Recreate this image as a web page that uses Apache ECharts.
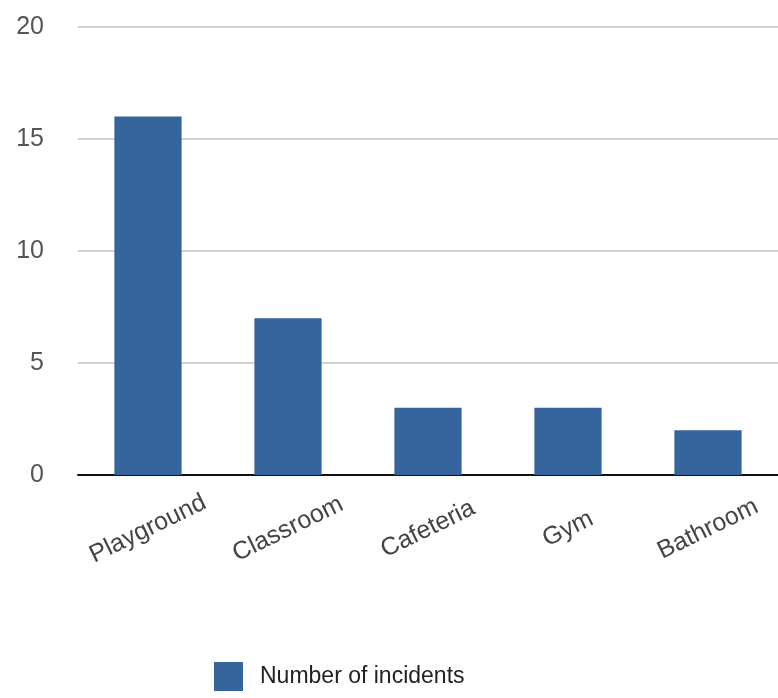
<!DOCTYPE html>
<html>
<head>
<meta charset="utf-8">
<style>
  html, body { margin: 0; padding: 0; background: #fff; }
  #chart { width: 778px; height: 698px; }
</style>
<script src="https://cdn.jsdelivr.net/npm/echarts@6/dist/echarts.min.js"></script>
</head>
<body>
<div id="chart"></div>
<script>
// Incidents by location
const locations = ['Playground', 'Classroom', 'Cafeteria', 'Gym', 'Bathroom'];
const incidents = [16, 7, 3, 3, 2];
const seriesName = 'Number of incidents';

const chart = echarts.init(document.getElementById('chart'));
const font = '"Liberation Sans", Arial, Helvetica, sans-serif';

chart.setOption({
  animation: false,
  grid: { left: 78, right: 0, top: 27, bottom: 223, containLabel: false },
  legend: {
    data: [seriesName],
    left: 209,
    top: 657,
    itemWidth: 29,
    itemHeight: 29,
    icon: 'rect',
    textStyle: { fontFamily: font, fontSize: 23, color: '#222', padding: [0, 0, 0, 12] }
  },
  xAxis: {
    type: 'category',
    data: locations,
    axisLine: { lineStyle: { color: '#111', width: 2 } },
    axisTick: { show: false },
    axisLabel: {
      rotate: 26,
      align: 'center',
      verticalAlign: 'middle',
      margin: 54,
      fontFamily: font,
      fontSize: 25,
      color: '#444'
    }
  },
  yAxis: {
    type: 'value',
    min: 0,
    max: 20,
    interval: 5,
    axisLine: { show: false },
    axisTick: { show: false },
    axisLabel: { margin: 34, fontFamily: font, fontSize: 25, color: '#555' },
    splitLine: { lineStyle: { color: '#d2d2d2', width: 2 } }
  },
  series: [{
    name: seriesName,
    type: 'bar',
    data: incidents,
    barWidth: '48%',
    itemStyle: { color: '#36649c' }
  }]
});
</script>
</body>
</html>
